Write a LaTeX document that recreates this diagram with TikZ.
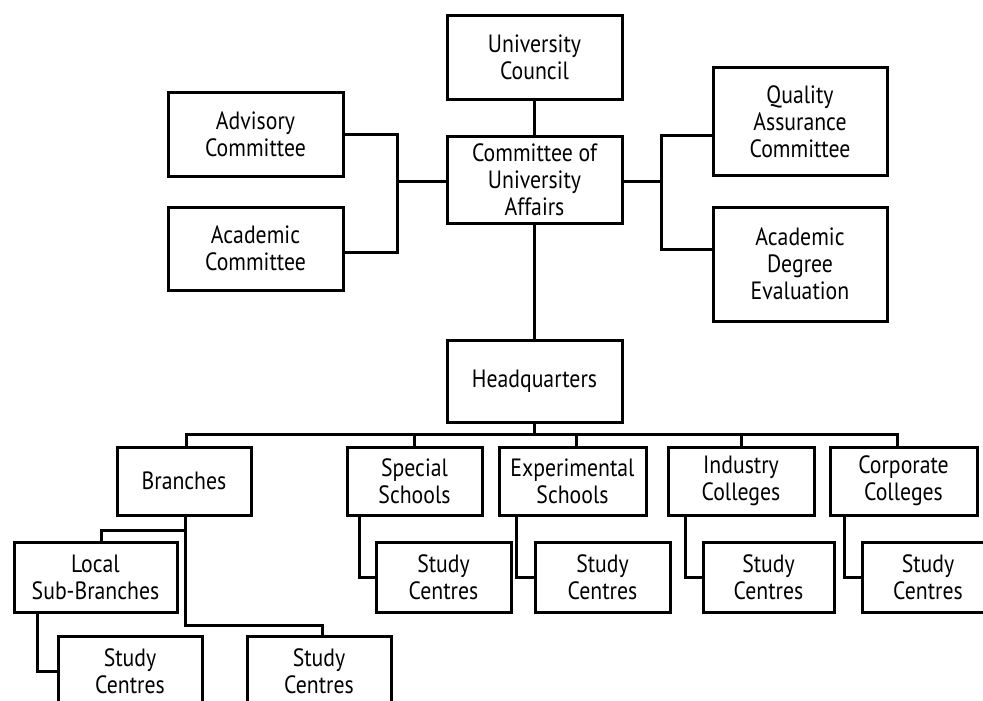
\documentclass[tikz,border=0pt]{standalone}
\usepackage{fontspec}
\setmainfont{PT Sans}[FakeStretch=0.87]
\begin{document}
\begin{tikzpicture}[x=1pt,y=-1pt,
  box/.style={draw=black,line width=3pt,fill=white,align=center,inner sep=0pt,
    font=\fontsize{25}{27}\selectfont},
  conn/.style={line width=3pt,line cap=rect}]
\useasboundingbox (0,0) rectangle (983,701);
\fill[white] (0,0) rectangle (983,701);
\clip (0,0) rectangle (983,701);
% top level
\node[box,minimum width=175,minimum height=83] (UC) at (534.5,57.5) {University\\Council};
\node[box,minimum width=175,minimum height=83] (AdvC) at (255.5,134.5) {Advisory\\Committee};
\node[box,minimum width=175,minimum height=83] (AcaC) at (255.5,248.5) {Academic\\Committee};
\node[box,minimum width=175,minimum height=87] (CUA) at (534.5,179.5) {Committee of\\University\\Affairs};
\node[box,minimum width=174,minimum height=107] (QAC) at (800,121.5) {Quality\\Assurance\\Committee};
\node[box,minimum width=174,minimum height=114] (ADE) at (800,264) {Academic\\Degree\\Evaluation};
\node[box,minimum width=175,minimum height=82] (HQ) at (534.5,381) {Headquarters};
% second level
\node[box,minimum width=134,minimum height=68] (Br) at (184,481) {Branches};
\node[box,minimum width=135,minimum height=68] (Sp) at (414.5,481) {Special\\Schools};
\node[box,minimum width=147,minimum height=68] (Ex) at (572.5,481) {Experimental\\Schools};
\node[box,minimum width=146,minimum height=68] (In) at (741,481) {Industry\\Colleges};
\node[box,minimum width=147,minimum height=68] (Co) at (903.5,481) {Corporate\\Colleges};
% third level
\node[box,minimum width=163,minimum height=70] (LSB) at (95.5,577) {Local\\Sub-Branches};
\node[box,minimum width=135,minimum height=70] (SCSp) at (443.5,577) {Study\\Centres};
\node[box,minimum width=135,minimum height=70] (SCEx) at (602.5,577) {Study\\Centres};
\node[box,minimum width=131,minimum height=70] (SCIn) at (768.5,577) {Study\\Centres};
\node[box,minimum width=132,minimum height=70] (SCCo) at (928,577) {Study\\Centres};
\node[box,minimum width=144,minimum height=70] (SCL) at (130,671) {Study\\Centres};
\node[box,minimum width=144,minimum height=70] (SCBr) at (319,671) {Study\\Centres};
% connectors
\coordinate (jl) at (397,181);
\coordinate (jr) at (661,181);
\draw[conn] (UC.south) -- (CUA.north);
\draw[conn] (AdvC.east) -| (jl) |- ([yshift=-3.5pt]AcaC.east);
\draw[conn] (jl) -- (jl -| CUA.west);
\draw[conn] ([yshift=-13.5pt]QAC.west) -| (jr) |- ([yshift=15pt]ADE.west);
\draw[conn] (jr) -- (jr -| CUA.east);
\draw[conn] (CUA.south) -- (HQ.north);
\coordinate (busL) at (186,434);
\coordinate (busR) at (897,434);
\draw[conn] (busL) -- (busR);
\draw[conn] (HQ.south) -- (HQ.south |- busL);
\draw[conn] (busL) -- (busL |- Br.north);
\draw[conn] (Sp.north |- busL) -- (Sp.north);
\draw[conn] ([xshift=3.5pt]Ex.north |- busL) -- ([xshift=3.5pt]Ex.north);
\draw[conn] (In.north |- busL) -- (In.north);
\draw[conn] (busR) -- (busR |- Co.north);
% schools to study centres
\draw[conn] ([xshift=-55.5pt]Sp.south) |- (SCSp.west);
\draw[conn] ([xshift=-56.5pt]Ex.south) |- (SCEx.west);
\draw[conn] ([xshift=-56pt]In.south) |- (SCIn.west);
\draw[conn] ([xshift=-59.5pt]Co.south) |- (SCCo.west);
% branches tree
\coordinate (b1) at (101,530);
\coordinate (b2) at (322,625);
\draw[conn] ([xshift=1pt]Br.south) |- (b1) -- (b1 |- LSB.north);
\draw[conn] ([xshift=1pt]Br.south) |- (b2) -- (b2 |- SCBr.north);
\coordinate (l1) at (37,671);
\draw[conn] (l1 |- LSB.south) |- (SCL.west);
\end{tikzpicture}
\end{document}
